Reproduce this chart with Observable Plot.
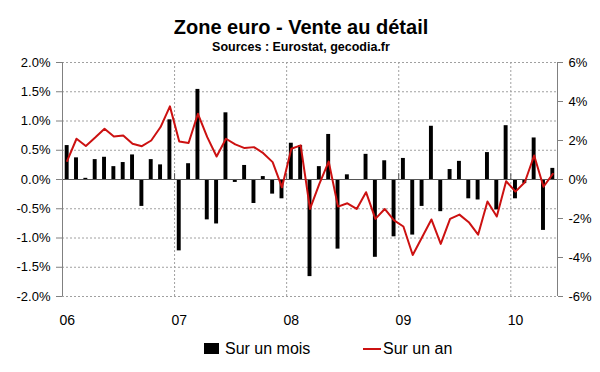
<!DOCTYPE html>
<html>
<head>
<meta charset="utf-8">
<script src="https://cdn.jsdelivr.net/npm/d3@7"></script>
<script src="https://cdn.jsdelivr.net/npm/@observablehq/plot@0.6"></script>
<style>
  body { margin: 0; background: #fff; font-family: Arial, "Liberation Sans", sans-serif; }
  #wrap { position: relative; width: 600px; height: 372px; overflow: hidden; background: #fff; }
  #title { position: absolute; left: 0; width: 602px; top: 17px; text-align: center; font-weight: bold; font-size: 20px; line-height: 20px; color: #000; }
  #sub { position: absolute; left: 0; width: 602px; top: 41px; text-align: center; font-weight: bold; font-size: 12.5px; line-height: 12.5px; color: #000; }
  #chart { position: absolute; left: 0; top: 55px; }
  .leg { position: absolute; font-size: 16px; line-height: 16px; color: #000; white-space: nowrap; }
  .sw { position: absolute; }
</style>
</head>
<body>
<div id="wrap">
  <div id="title">Zone euro - Vente au détail</div>
  <div id="sub">Sources : Eurostat, gecodia.fr</div>
  <div id="chart"></div>
  <div class="sw" style="left:204px;top:343px;width:15px;height:11px;background:#000"></div>
  <div class="leg" style="left:225px;top:341px" id="leg1"></div>
  <div class="sw" style="left:363px;top:348px;width:18px;height:2px;background:#cc1111"></div>
  <div class="leg" style="left:383px;top:341px" id="leg2"></div>
</div>
<script>
// Series names
const seriesNames = ["Sur un mois", "Sur un an"];
// Year tick labels (January of each year)
const xLabels = ["06", "07", "08", "09", "10"];
// Months: Jan 2006 .. May 2010
const months = [
  "2006-01","2006-02","2006-03","2006-04","2006-05","2006-06","2006-07","2006-08","2006-09","2006-10","2006-11","2006-12",
  "2007-01","2007-02","2007-03","2007-04","2007-05","2007-06","2007-07","2007-08","2007-09","2007-10","2007-11","2007-12",
  "2008-01","2008-02","2008-03","2008-04","2008-05","2008-06","2008-07","2008-08","2008-09","2008-10","2008-11","2008-12",
  "2009-01","2009-02","2009-03","2009-04","2009-05","2009-06","2009-07","2009-08","2009-09","2009-10","2009-11","2009-12",
  "2010-01","2010-02","2010-03","2010-04","2010-05"
];
// Month-on-month change (%), left axis
const surUnMois = [
  0.58, 0.37, 0.02, 0.34, 0.38, 0.22, 0.29, 0.42, -0.46, 0.34, 0.25, 1.02,
  -1.22, 0.27, 1.54, -0.69, -0.76, 1.14, -0.05, 0.24, -0.41, 0.05, -0.25, -0.33,
  0.62, 0.58, -1.66, 0.22, 0.77, -1.19, 0.08, 0.00, 0.43, -1.33, 0.32, -0.98,
  0.36, -0.95, -0.46, 0.91, -0.55, 0.17, 0.31, -0.33, -0.35, 0.46, -0.52, 0.92,
  -0.33, -0.07, 0.71, -0.87, 0.19
];
// Year-on-year change (%), right axis
const surUnAn = [
  0.95, 2.09, 1.72, 2.15, 2.60, 2.21, 2.26, 1.83, 1.71, 2.00, 2.69, 3.75,
  1.95, 1.87, 3.37, 2.17, 1.18, 2.09, 1.80, 1.61, 1.66, 1.35, 0.89, -0.40,
  1.58, 1.75, -1.51, -0.22, 0.92, -1.39, -1.22, -1.51, -0.65, -2.02, -1.51, -2.10,
  -2.41, -3.87, -2.96, -2.05, -3.30, -2.02, -1.80, -2.19, -2.83, -1.13, -1.90, -0.09,
  -0.62, -0.14, 1.23, -0.37, 0.29
];
// Axis ticks
const leftTicks = [-2, -1.5, -1, -0.5, 0, 0.5, 1, 1.5, 2];
const rightTicks = [-6, -4, -2, 0, 2, 4, 6];

document.getElementById("leg1").textContent = seriesNames[0];
document.getElementById("leg2").textContent = seriesNames[1];

const ratio = 3; // right axis (±6%) vs left axis (±2%)
const data = months.map((m, i) => ({ m, i, mois: surUnMois[i], an: surUnAn[i] }));
const yearStarts = xLabels.map((_, k) => k * 12);
const yearBounds = yearStarts.slice(1);
const n = months.length;

const chart = Plot.plot({
  width: 600,
  height: 270,
  marginLeft: 62,
  marginRight: 43,
  marginTop: 7,
  marginBottom: 29,
  style: { fontFamily: "Arial, 'Liberation Sans', sans-serif", fontSize: "13px", color: "#000", background: "#fff", overflow: "visible" },
  x: { domain: [0, n], label: null },
  y: { domain: [-2, 2], label: null },
  marks: [
    Plot.ruleY(leftTicks.filter(d => d !== 0), { stroke: "#a0a0a0", strokeDasharray: "2,2", strokeWidth: 1 }),
    Plot.ruleX(yearBounds, { stroke: "#a0a0a0", strokeDasharray: "2,2", strokeWidth: 1 }),
    Plot.rectY(data, { x1: d => d.i + 0.29, x2: d => d.i + 0.71, y: "mois", fill: "#000" }),
    Plot.ruleY([0], { stroke: "#555", strokeWidth: 1 }),
    Plot.ruleX(yearBounds, { y1: 0, y2: 0.1, stroke: "#555" }),
    Plot.line(data, { x: d => d.i + 0.5, y: d => d.an / ratio, stroke: "#cc1111", strokeWidth: 2 }),
    Plot.ruleX([0, n], { stroke: "#808080", strokeWidth: 1 }),
    Plot.axisY(leftTicks, { anchor: "left", label: null, tickFormat: d => d.toFixed(1) + "%", tickSize: 6, tickPadding: 6, stroke: "#808080", fill: "#000", fontSize: 13 }),
    Plot.axisY(rightTicks.map(v => v / ratio), { anchor: "right", label: null, tickFormat: d => Math.round(d * ratio) + "%", tickSize: 5, tickPadding: 6, stroke: "#808080", fill: "#000", fontSize: 13 }),
    Plot.axisX(yearStarts.map(v => v + 0.5), { anchor: "bottom", label: null, tickSize: 0, tickPadding: 19, tickFormat: d => xLabels[Math.round((d - 0.5) / 12)], fontSize: 14, fill: "#000" })
  ]
});
document.getElementById("chart").appendChild(chart);
</script>
</body>
</html>
